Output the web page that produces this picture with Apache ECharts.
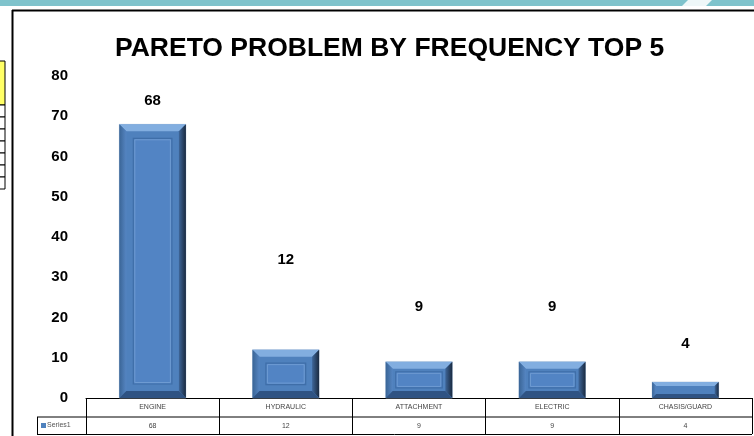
<!DOCTYPE html>
<html lang="en">
<head>
    <meta charset="UTF-8">
    <title>Pareto problem by frequency</title>
    <style>
        body {
            padding: 0;
            margin: 0;
            background-color: #FFFFFF;
            overflow: hidden;
        }
        #main_chart {
            width: 754px;
            height: 436px;
        }
    </style>
</head>
<body>
<div id="main_chart"></div>
<script type="text/javascript" src="https://cdn.jsdelivr.net/npm/echarts@6/dist/echarts.min.js"></script>
<script type="text/javascript">
var categories = ['ENGINE', 'HYDRAULIC', 'ATTACHMENT', 'ELECTRIC', 'CHASIS/GUARD'];
var values = [68, 12, 9, 9, 4];
var seriesName = 'Series1';
var yTicks = [0, 10, 20, 30, 40, 50, 60, 70, 80];

// excel put the data labels at odd heights, lift above bar top in px
var labelLift = [23, 90, 55, 55, 38];

var GRID = { left: 86, right: 2, top: 76, bottom: 38 };
var W = 754, H = 436;
var tableTop = H - GRID.bottom;
var rowH = 19;

var dom = document.getElementById('main_chart');
var chart = echarts.init(dom);

function renderBar(params, api) {
    var v = api.value(1);
    var top = api.coord([api.value(0), v]);
    var base = api.coord([api.value(0), 0]);
    var bw = api.size([1, 0])[0] * 0.5;
    var x = top[0] - bw / 2, y = top[1], h = base[1] - top[1];
    var b = Math.min(7, h / 4);
    var children = [
        { type: 'rect', shape: { x: x, y: y, width: bw, height: h }, style: { fill: '#4F81BD', stroke: '#b9c9dd', lineWidth: 0.6 } },
        // top bevel
        { type: 'polygon', shape: { points: [[x, y], [x + bw, y], [x + bw - b, y + b], [x + b, y + b]] }, style: { fill: '#82aee0' } },
        // left bevel
        { type: 'polygon', shape: { points: [[x, y], [x + b, y + b], [x + b, y + h - b], [x, y + h]] },
          style: { fill: new echarts.graphic.LinearGradient(0, 0, 1, 0, [{ offset: 0, color: '#3a6596' }, { offset: 1, color: '#5585c2' }]) } },
        // right bevel
        { type: 'polygon', shape: { points: [[x + bw, y], [x + bw, y + h], [x + bw - b, y + h - b], [x + bw - b, y + b]] },
          style: { fill: new echarts.graphic.LinearGradient(0, 0, 1, 0, [{ offset: 0, color: '#3e6699' }, { offset: 1, color: '#1a2a40' }]) } },
        // bottom bevel
        { type: 'polygon', shape: { points: [[x, y + h], [x + bw, y + h], [x + bw - b, y + h - b], [x + b, y + h - b]] }, style: { fill: '#2f5383' } }
    ];
    var ins = Math.min(14, h / 3.6);
    if (h > 24) {
        children.push({ type: 'rect', shape: { x: x + ins, y: y + ins, width: bw - 2 * ins, height: h - 2 * ins },
            style: { fill: '#5284c4', stroke: '#3f6ea8', lineWidth: 1.2 } });
        children.push({ type: 'rect', shape: { x: x + ins + 1.5, y: y + ins + 1.5, width: bw - 2 * ins - 3, height: h - 2 * ins - 3 },
            style: { fill: 'none', stroke: '#6e9bd2', lineWidth: 1 } });
    }
    children.push({
        type: 'text',
        style: {
            text: String(v), x: top[0], y: y - labelLift[params.dataIndex],
            align: 'center', verticalAlign: 'middle',
            font: 'bold 15px "Liberation Sans", Arial, sans-serif', fill: '#000'
        }
    });
    return { type: 'group', children: children };
}

// data table lines + frame decorations
var tableRight = W - GRID.right;
var graphics = [
    { type: 'rect', shape: { x: 0, y: 0, width: W, height: 6 }, style: { fill: '#7fc3cc' } },
    { type: 'polygon', shape: { points: [[688, 0], [712, 0], [706, 6], [682, 6]] }, style: { fill: '#eef7f8' } },
    { type: 'line', shape: { x1: 12, y1: 10.5, x2: W, y2: 10.5 }, style: { stroke: '#000', lineWidth: 2 } },
    { type: 'line', shape: { x1: 12.5, y1: 10, x2: 12.5, y2: H }, style: { stroke: '#000', lineWidth: 2 } },
    { type: 'rect', shape: { x: -1, y: 61, width: 6, height: 44 }, style: { fill: '#ffff66', stroke: '#000', lineWidth: 1 } },
    { type: 'line', shape: { x1: GRID.left, y1: tableTop + rowH, x2: tableRight, y2: tableTop + rowH }, style: { stroke: '#000', lineWidth: 1 } },
    { type: 'line', shape: { x1: 37, y1: tableTop + rowH, x2: GRID.left, y2: tableTop + rowH }, style: { stroke: '#000', lineWidth: 1 } },
    { type: 'line', shape: { x1: 37, y1: tableTop + 2 * rowH - 1.5, x2: tableRight, y2: tableTop + 2 * rowH - 1.5 }, style: { stroke: '#000', lineWidth: 1 } },
    { type: 'line', shape: { x1: 37.5, y1: tableTop + rowH, x2: 37.5, y2: tableTop + 2 * rowH - 1.5 }, style: { stroke: '#000', lineWidth: 1 } },
    { type: 'rect', shape: { x: 41, y: tableTop + rowH + 6, width: 5, height: 5 }, style: { fill: '#4F81BD' } },
    { type: 'text', style: { text: seriesName, x: 47, y: tableTop + rowH + 8.5, verticalAlign: 'middle', font: '7px "Liberation Sans", sans-serif', fill: '#555' } }
];
for (var i = 0; i < 7; i++) {
    graphics.push({ type: 'rect', shape: { x: -1, y: 105 + i * 12, width: 6, height: 12 }, style: { fill: '#fff', stroke: '#000', lineWidth: 1 } });
}

var option = {
    animation: false,
    title: {
        text: 'PARETO PROBLEM BY FREQUENCY TOP 5',
        left: 110,
        top: 30,
        textStyle: { fontFamily: '"Liberation Sans Narrow", sans-serif', fontWeight: 'bold', fontSize: 26.5, color: '#000' }
    },
    grid: GRID,
    xAxis: {
        type: 'category',
        data: categories,
        axisLine: { show: true, lineStyle: { color: '#000', width: 1 } },
        axisTick: { show: true, interval: 0, length: rowH * 2 - 2, lineStyle: { color: '#000', width: 1 } },
        axisLabel: {
            margin: 0,
            interval: 0,
            formatter: function (name, idx) {
                return '{a|' + name + '}\n{b|' + values[idx] + '}';
            },
            rich: {
                a: { fontSize: 7, lineHeight: rowH, color: '#444', fontFamily: '"Liberation Sans", sans-serif' },
                b: { fontSize: 7, lineHeight: rowH, color: '#444', fontFamily: '"Liberation Sans", sans-serif' }
            }
        }
    },
    yAxis: {
        type: 'value',
        min: yTicks[0],
        max: yTicks[yTicks.length - 1],
        interval: 10,
        axisLine: { show: false },
        axisTick: { show: false },
        splitLine: { show: false },
        axisLabel: { margin: 18, color: '#000', fontWeight: 'bold', fontSize: 15, fontFamily: '"Liberation Sans", Arial, sans-serif' }
    },
    series: [{
        type: 'custom',
        name: seriesName,
        renderItem: renderBar,
        data: values.map(function (v, i) { return [i, v]; })
    }],
    graphic: graphics
};

chart.setOption(option);
</script>
</body>
</html>
